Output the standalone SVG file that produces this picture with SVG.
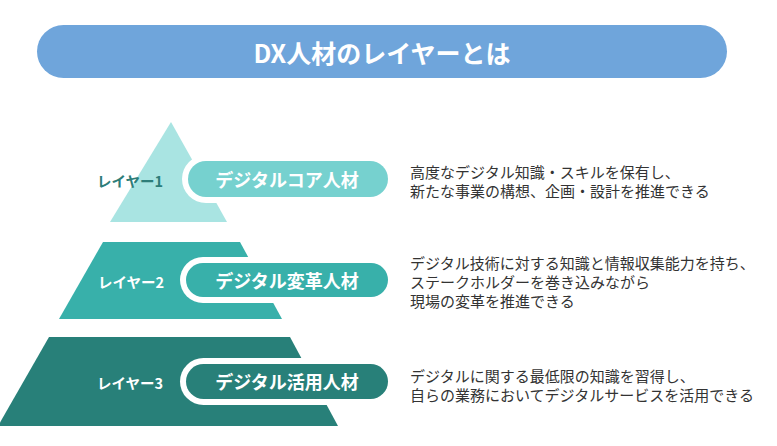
<svg xmlns="http://www.w3.org/2000/svg" width="777" height="446" viewBox="0 0 777 446">
<style>
.jp{font-family:"Noto Sans CJK JP","Liberation Sans",sans-serif}
.title{font-size:25px;font-weight:bold;fill:#fff}
.lbl{font-size:14.5px;font-weight:bold}
.pilltxt{font-size:18px;font-weight:bold;fill:#fff}
.desc{font-size:15px;fill:#333}
.ring{fill:#fff}
</style>
<rect width="777" height="446" fill="#fff"/>
<g id="title">
<rect x="37" y="25" width="690" height="53" rx="26.5" fill="#6fa5db"/>
<text class="jp title" x="382" y="52" text-anchor="middle" dominant-baseline="central">DX人材のレイヤーとは</text>
</g>
<g id="layer1">
<polygon points="171,122 227,222 110,222" fill="#a9e4e2"/>
<rect class="ring" x="182" y="155" width="212" height="48" rx="24"/>
<rect x="188" y="161" width="200" height="36" rx="18" fill="#76d1cf"/>
<text class="jp lbl" x="130" y="180" text-anchor="middle" dominant-baseline="central" fill="#2d7d79">レイヤー1</text>
<text class="jp pilltxt" x="287" y="179" text-anchor="middle" dominant-baseline="central">デジタルコア人材</text>
<text class="jp desc" x="410" y="171" dominant-baseline="central">高度なデジタル知識・スキルを保有し、</text>
<text class="jp desc" x="410" y="190" dominant-baseline="central">新たな事業の構想、企画・設計を推進できる</text>
</g>
<g id="layer2">
<polygon points="103,242 240,242 282,319 59,319" fill="#38b0aa"/>
<rect class="ring" x="180" y="257" width="214" height="46" rx="23"/>
<rect x="186" y="263" width="202" height="34" rx="17" fill="#38b0aa"/>
<text class="jp lbl" x="131" y="281" text-anchor="middle" dominant-baseline="central" fill="#fff">レイヤー2</text>
<text class="jp pilltxt" x="287" y="280" text-anchor="middle" dominant-baseline="central">デジタル変革人材</text>
<text class="jp desc" x="410" y="262" dominant-baseline="central">デジタル技術に対する知識と情報収集能力を持ち、</text>
<text class="jp desc" x="410" y="281" dominant-baseline="central">ステークホルダーを巻き込みながら</text>
<text class="jp desc" x="410" y="300" dominant-baseline="central">現場の変革を推進できる</text>
</g>
<g id="layer3">
<polygon points="49,337 290,337 338,426 -2,426" fill="#288079"/>
<rect class="ring" x="180" y="358" width="214" height="47" rx="23.5"/>
<rect x="186" y="364" width="202" height="35" rx="17.5" fill="#288079"/>
<text class="jp lbl" x="130" y="382" text-anchor="middle" dominant-baseline="central" fill="#fff">レイヤー3</text>
<text class="jp pilltxt" x="287" y="381" text-anchor="middle" dominant-baseline="central">デジタル活用人材</text>
<text class="jp desc" x="410" y="375" dominant-baseline="central">デジタルに関する最低限の知識を習得し、</text>
<text class="jp desc" x="410" y="394" dominant-baseline="central">自らの業務においてデジタルサービスを活用できる</text>
</g>
<g id="connectors"/>
</svg>
